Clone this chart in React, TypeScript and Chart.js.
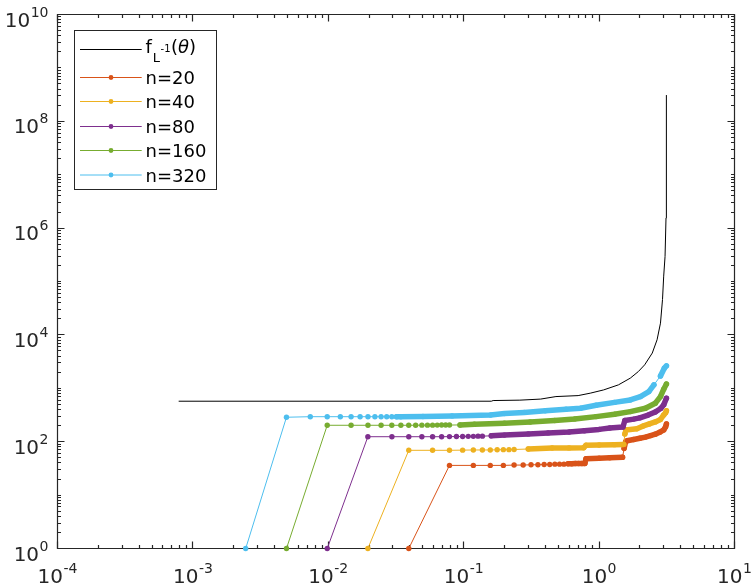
import React, { useEffect, useRef } from "react";
import { Chart, registerables } from "chart.js";

Chart.register(...registerables);

// ---------- data ----------
const xTickExponents = [-4, -3, -2, -1, 0, 1];
const yTickExponents = [0, 2, 4, 6, 8, 10];

const seriesLabels = ["n=20", "n=40", "n=80", "n=160", "n=320"];
const seriesColors = ["#D95319", "#EDB120", "#7E2F8E", "#77AC30", "#4DBEEE"];
const limitLabel = "f_L^-1(θ)";
const limitColor = "#000000";

const limitX = [0.000785, 0.16, 0.165, 0.26, 0.37, 0.48, 0.7, 0.86, 1.08, 1.39, 1.7, 1.95, 2.17, 2.47, 2.68, 2.84, 2.94, 3.0, 3.07, 3.12, 3.138, 3.1416];
const limitY = [573, 573, 590, 600, 628, 700, 730, 810, 933, 1160, 1550, 2060, 2750, 4570, 8100, 16600, 46000, 126000, 295000, 1550000, 3400000, 310000000];

const n20X = [0.0393, 0.0785, 0.1178, 0.1571, 0.1963, 0.2356, 0.2749, 0.3142, 0.3534, 0.3927, 0.432, 0.4712, 0.5105, 0.5498, 0.589, 0.6283, 0.6676, 0.7069, 0.7461, 0.7854, 0.8, 1.0, 1.2, 1.49, 1.53, 1.571, 1.61, 1.8, 2.0, 2.2, 2.4, 2.6, 2.8, 3.0, 3.1, 3.1416];
const n20Y = [1, 36, 36, 36, 36, 36.5, 36.5, 37, 37, 37.5, 37.5, 38, 38, 38, 38.5, 38.5, 39, 39, 39, 39, 48, 49, 50, 51, 75, 100, 104, 110, 116, 122, 130, 138, 150, 166, 190, 215];

const n40X = [0.0196, 0.0393, 0.0589, 0.0785, 0.0982, 0.1178, 0.1374, 0.1571, 0.1767, 0.1963, 0.216, 0.2356, 0.3, 0.45, 0.6, 0.77, 0.8, 1.0, 1.3, 1.52, 1.55, 1.58, 1.9, 2.1, 2.35, 2.6, 2.84, 3.0, 3.1, 3.1416];
const n40Y = [1, 69, 69, 69, 69.5, 70, 70, 70, 70.5, 71, 71, 71.5, 73, 76, 76.5, 77, 86, 87, 88, 89, 140, 166, 175, 195, 215, 235, 260, 317, 350, 380];

const n80X = [0.00982, 0.0196, 0.0295, 0.0393, 0.0491, 0.0589, 0.0687, 0.0785, 0.0884, 0.0982, 0.108, 0.1178, 0.1276, 0.1374, 0.16, 0.2, 0.3, 0.42, 0.6, 0.78, 1.0, 1.2, 1.5, 1.55, 1.8, 2.0, 2.3, 2.6, 2.85, 3.0, 3.1416];
const n80Y = [1, 124, 124, 124, 124, 124, 124, 124.5, 125, 125, 126, 126, 127, 127, 129, 133, 140, 146, 152, 160, 170, 180, 188, 250, 265, 280, 315, 360, 420, 490, 650];

const n160X = [0.00491, 0.00982, 0.01473, 0.01963, 0.02454, 0.02945, 0.03436, 0.03927, 0.04418, 0.04909, 0.054, 0.0589, 0.0638, 0.0687, 0.0736, 0.0785, 0.094, 0.12, 0.2, 0.31, 0.47, 0.66, 0.95, 1.3, 1.7, 2.2, 2.6, 2.84, 3.0, 3.1416];
const n160Y = [1, 203, 203, 203, 203, 203, 203, 203, 203.5, 204, 204, 204, 204.5, 205, 205, 205, 206, 212, 221, 234, 250, 267, 295, 327, 366, 424, 526, 699, 962, 1200];

const n320X = [0.002454, 0.004909, 0.007363, 0.009817, 0.01227, 0.01473, 0.01718, 0.01963, 0.02209, 0.02454, 0.027, 0.02945, 0.0319, 0.03436, 0.05, 0.082, 0.158, 0.2, 0.28, 0.4, 0.57, 0.73, 0.95, 1.3, 1.7, 2.02, 2.33, 2.54, 2.84, 3.03, 3.1416];
const n320Y = [1, 287, 294, 294, 294, 294, 294, 294, 294, 294, 294, 294, 294, 294, 296, 304, 317, 336, 354, 378, 405, 424, 480, 545, 606, 699, 867, 1160, 1700, 2380, 2630];

const seriesX = [n20X, n40X, n80X, n160X, n320X];
const seriesY = [n20Y, n40Y, n80Y, n160Y, n320Y];

// style: x from which markers overlap into a solid band
const bandFrom = [0.58, 0.28, 0.15, 0.09, 0.03];

const AXIS = "#262626";
const FONT = '"DejaVu Sans"';

function drawPow(ctx: CanvasRenderingContext2D, exp: string, x: number, baseY: number, align: "center" | "right") {
  ctx.font = `20px ${FONT}`;
  const wb = ctx.measureText("10").width;
  ctx.font = `14px ${FONT}`;
  const we = ctx.measureText(exp).width;
  const total = wb + 0.5 + we;
  const start = align === "center" ? x - total / 2 : x - total;
  ctx.textAlign = "left";
  ctx.textBaseline = "alphabetic";
  ctx.font = `20px ${FONT}`;
  ctx.fillText("10", start, baseY);
  ctx.font = `14px ${FONT}`;
  ctx.fillText(exp, start + wb + 0.5, baseY - 10);
}

function drawAxes(chart: any) {
  const { ctx, chartArea: a, scales } = chart;
  const sx = scales.x;
  const sy = scales.y;
  const L = a.left, R = a.right, T = a.top, B = a.bottom;
  ctx.save();
  ctx.strokeStyle = AXIS;
  ctx.lineWidth = 1.2;
  ctx.lineCap = "butt";
  for (let d = -4; d <= 1; d++) {
    for (let m = 1; m <= 9; m++) {
      const v = m * Math.pow(10, d);
      if (v > 10.0001) break;
      const px = Math.round(sx.getPixelForValue(v) - 0.5) + 0.5;
      const len = m === 1 ? 7 : 3.5;
      ctx.beginPath();
      ctx.moveTo(px, B);
      ctx.lineTo(px, B - len);
      ctx.moveTo(px, T);
      ctx.lineTo(px, T + len);
      ctx.stroke();
    }
  }
  for (let d = 0; d <= 10; d++) {
    for (let m = 1; m <= 9; m++) {
      const v = m * Math.pow(10, d);
      if (v > 1.0001e10) break;
      const py = Math.round(sy.getPixelForValue(v) - 0.5) + 0.5;
      const len = m === 1 && d % 2 === 0 ? 7 : 3.5;
      ctx.beginPath();
      ctx.moveTo(L, py);
      ctx.lineTo(L + len, py);
      ctx.moveTo(R, py);
      ctx.lineTo(R - len, py);
      ctx.stroke();
    }
  }
  ctx.beginPath();
  ctx.rect(L, T, R - L, B - T);
  ctx.stroke();
  ctx.restore();
}

const axesPlugin = {
  id: "matlabAxes",
  beforeDatasetsDraw(chart: any) {
    drawAxes(chart);
  },
  afterDraw(chart: any) {
    const { ctx, chartArea: a, scales } = chart;
    const sx = scales.x;
    const sy = scales.y;
    ctx.save();
    ctx.fillStyle = AXIS;
    for (const e of xTickExponents) {
      const px = sx.getPixelForValue(Math.pow(10, e));
      drawPow(ctx, String(e), px, a.bottom + 34.5, "center");
    }
    for (const e of yTickExponents) {
      const py = sy.getPixelForValue(Math.pow(10, e));
      drawPow(ctx, String(e), 48.5, py + 12, "right");
    }

    // legend
    const bx = 74.5, by = 30.5, bw = 142, bh = 159;
    ctx.fillStyle = "#ffffff";
    ctx.fillRect(bx, by, bw, bh);
    ctx.strokeStyle = AXIS;
    ctx.lineWidth = 1;
    ctx.strokeRect(bx, by, bw, bh);

    const lx0 = 80, lx1 = 141.7, mx = 111, tx = 145.5;
    ctx.strokeStyle = limitColor;
    ctx.beginPath();
    ctx.moveTo(lx0, 49.5);
    ctx.lineTo(lx1, 49.5);
    ctx.stroke();
    ctx.fillStyle = "#000000";
    ctx.textAlign = "left";
    ctx.textBaseline = "alphabetic";
    let cx = tx;
    ctx.font = `18px ${FONT}`;
    ctx.fillText("f", cx, 53.3);
    cx += ctx.measureText("f").width + 1;
    ctx.font = `13px ${FONT}`;
    ctx.fillText("L", cx, 61.5);
    cx += ctx.measureText("L").width + 0.5;
    ctx.font = `10px ${FONT}`;
    ctx.fillText("-1", cx, 51.5);
    cx += ctx.measureText("-1").width + 0.5;
    ctx.font = `18px ${FONT}`;
    ctx.fillText("(", cx, 53.3);
    cx += ctx.measureText("(").width;
    ctx.font = `italic 18px ${FONT}`;
    ctx.fillText("θ", cx, 53.3);
    cx += ctx.measureText("θ").width;
    ctx.font = `18px ${FONT}`;
    ctx.fillText(")", cx, 53.3);

    const rowY = [77.5, 101.5, 126.5, 150.5, 175];
    seriesLabels.forEach((lab, i) => {
      const y = rowY[i];
      ctx.strokeStyle = seriesColors[i];
      ctx.lineWidth = 1;
      ctx.beginPath();
      ctx.moveTo(lx0, y);
      ctx.lineTo(lx1, y);
      ctx.stroke();
      ctx.fillStyle = seriesColors[i];
      ctx.beginPath();
      ctx.arc(mx, y, 2.4, 0, Math.PI * 2);
      ctx.fill();
      ctx.fillStyle = "#000000";
      ctx.font = `18px ${FONT}`;
      ctx.fillText(lab, tx, y + 6.7);
    });
    ctx.restore();
  },
};

export default function App() {
  const canvasRef = useRef<HTMLCanvasElement | null>(null);

  useEffect(() => {
    const canvas = canvasRef.current;
    if (!canvas) return;

    const colored = seriesLabels.map((lab, i) => {
      const xs = seriesX[i];
      const ys = seriesY[i];
      return {
        label: lab,
        data: xs.map((x, k) => ({ x, y: ys[k] })),
        borderColor: seriesColors[i],
        backgroundColor: seriesColors[i],
        borderWidth: 1,
        pointRadius: 2.7,
        pointHoverRadius: 2.7,
        pointBorderWidth: 0,
        pointBackgroundColor: seriesColors[i],
        borderCapStyle: "round",
        borderJoinStyle: "round",
        tension: 0,
        fill: false,
        clip: false,
        order: 5 - i,
        segment: {
          borderWidth: (sc: any) => {
            const xv = xs[sc.p0DataIndex];
            const dy = Math.abs(sc.p1.y - sc.p0.y);
            return xv >= bandFrom[i] && dy < 8 ? 5.5 : 1;
          },
        },
      };
    });

    const chart = new Chart(canvas, {
      type: "line",
      data: {
        datasets: [
          {
            label: limitLabel,
            data: limitX.map((x, k) => ({ x, y: limitY[k] })),
            borderColor: limitColor,
            borderWidth: 1,
            pointRadius: 0,
            tension: 0,
            fill: false,
            clip: false,
            order: 10,
          } as any,
          ...(colored as any[]),
        ],
      },
      options: {
        animation: false,
        responsive: false,
        maintainAspectRatio: false,
        layout: { padding: { left: 57.5, top: 14.5, right: 20.5, bottom: 37.5 } },
        scales: {
          x: { type: "logarithmic", min: 1e-4, max: 10, display: false },
          y: { type: "logarithmic", min: 1, max: 1e10, display: false },
        },
        plugins: {
          legend: { display: false },
          tooltip: { enabled: false },
        },
        events: [],
      },
      plugins: [axesPlugin as any],
    });

    return () => chart.destroy();
  }, []);

  return (
    <div style={{ position: "absolute", left: 0, top: 0, width: 755, height: 586, background: "#ffffff" }}>
      <canvas ref={canvasRef} width={755} height={586} style={{ width: 755, height: 586, display: "block" }} />
    </div>
  );
}
